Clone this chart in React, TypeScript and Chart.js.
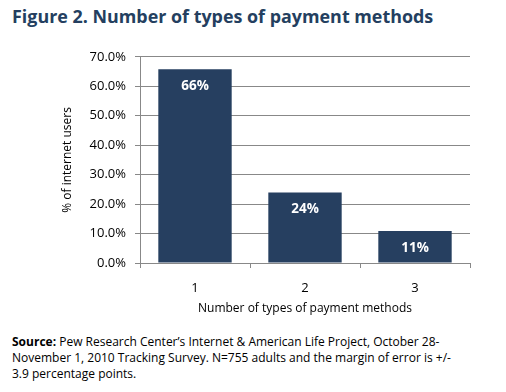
import React, { useEffect, useRef } from "react";
import { Chart, registerables } from "chart.js";

Chart.register(...registerables);

const categories = ["1", "2", "3"];
const shares = [65.8, 23.9, 10.9];
const shareLabels = ["66%", "24%", "11%"];
const yTicks = [0, 10, 20, 30, 40, 50, 60, 70];

const titleText = "Figure 2. Number of types of payment methods";
const sourceLines = [
  ["Source:", " Pew Research Center\u2019s Internet & American Life Project, October 28-"],
  ["", "November 1, 2010 Tracking Survey. N=755 adults and the margin of error is +/-"],
  ["", "3.9 percentage points."],
];

const NAVY = "#263f60";
const GRID = "#888888";
const FONT = "'Open Sans', 'Noto Sans', sans-serif";

const barLabelPlugin = {
  id: "barLabels",
  afterDatasetsDraw(chart: any) {
    const ctx = chart.ctx;
    const meta = chart.getDatasetMeta(0);
    ctx.save();
    ctx.fillStyle = "#ffffff";
    ctx.font = `bold 13.5px ${FONT}`;
    ctx.textAlign = "center";
    ctx.textBaseline = "middle";
    meta.data.forEach((bar: any, i: number) => {
      ctx.fillText(shareLabels[i], bar.x, bar.y + 17);
    });
    ctx.restore();
  },
};

export default function App() {
  const ref = useRef<HTMLCanvasElement | null>(null);

  useEffect(() => {
    if (!ref.current) return;
    const chart = new Chart(ref.current, {
      type: "bar",
      data: {
        labels: categories,
        datasets: [
          {
            data: shares,
            backgroundColor: NAVY,
            borderWidth: 0,
            categoryPercentage: 0.667,
            barPercentage: 1,
          },
        ],
      },
      options: {
        responsive: false,
        animation: false,
        events: [],
        layout: { padding: { left: 0, right: 36, top: 10, bottom: 0 } },
        plugins: {
          legend: { display: false },
          tooltip: { enabled: false },
        },
        scales: {
          x: {
            grid: {
              display: true,
              drawOnChartArea: false,
              drawTicks: true,
              tickLength: 5,
              color: GRID,
              offset: true,
            },
            border: { display: true, color: GRID, width: 1 },
            ticks: {
              color: "#000000",
              padding: 12,
              font: { family: FONT, size: 13 },
            },
            title: {
              display: true,
              text: "Number of types of payment methods",
              color: "#000000",
              font: { family: FONT, size: 12 },
              padding: { top: 0, bottom: 9 },
            },
            afterFit: (scale: any) => {
              scale.height = 62;
            },
          },
          y: {
            min: 0,
            max: 70,
            afterBuildTicks: (scale: any) => {
              scale.ticks = yTicks.map((v) => ({ value: v }));
            },
            grid: {
              display: true,
              drawOnChartArea: true,
              drawTicks: true,
              tickLength: 5,
              color: GRID,
            },
            border: { display: true, color: GRID, width: 1 },
            ticks: {
              color: "#000000",
              padding: 9,
              font: { family: FONT, size: 13 },
              callback: (v: any) => Number(v).toFixed(1) + "%",
            },
            title: {
              display: true,
              text: "% of internet users",
              color: "#000000",
              font: { family: FONT, size: 12 },
              padding: { top: 60, bottom: 0 },
            },
            afterFit: (scale: any) => {
              scale.width = 140;
            },
          },
        },
      },
      plugins: [barLabelPlugin],
    });
    return () => chart.destroy();
  }, []);

  return (
    <div style={{ position: "absolute", left: 0, top: 0, width: 506, height: 392, background: "#ffffff", fontFamily: FONT }}>
      <div
        style={{
          position: "absolute",
          left: 12,
          top: 4,
          whiteSpace: "nowrap",
          fontWeight: 700,
          fontSize: 17.9,
          color: "#243f60",
          lineHeight: "25px",
        }}
      >
        {titleText}
      </div>
      <canvas ref={ref} width={506} height={285} style={{ position: "absolute", left: 0, top: 40, width: 506, height: 285 }} />
      <div style={{ position: "absolute", left: 12, top: 334, fontSize: 12, lineHeight: "16px", color: "#000000" }}>
        {sourceLines.map((ln, i) => (
          <div key={i} style={{ whiteSpace: "nowrap" }}>
            {ln[0] ? <b>{ln[0]}</b> : null}
            {ln[1]}
          </div>
        ))}
      </div>
    </div>
  );
}
